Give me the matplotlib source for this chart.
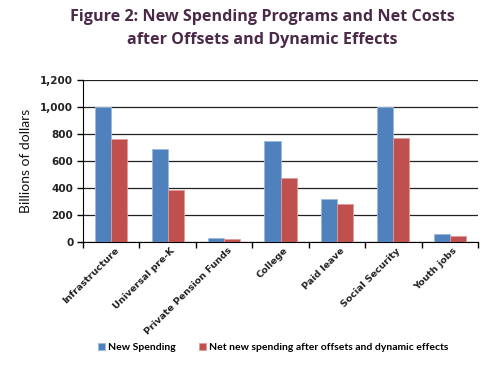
import numpy as np
import matplotlib
matplotlib.use("Agg")
import matplotlib.pyplot as plt
from matplotlib.ticker import FuncFormatter

# data
programs = ["Infrastructure", "Universal pre-K", "Private Pension Funds", "College",
            "Paid leave", "Social Security", "Youth jobs"]
new_spending = [1000, 685, 27, 749, 318, 1000, 59]
net_spending = [761, 387, 20, 473, 283, 769, 47]
series_names = ["New Spending", "Net new spending after offsets and dynamic effects"]

fig = plt.figure(figsize=(5, 3.67), dpi=100)
ax = fig.add_axes([0.166, 0.341, 0.79, 0.441])

x = np.arange(len(programs))
w = 0.285
ax.bar(x - w / 2, new_spending, w, color="#4F81BD", edgecolor="#9DB9E0", linewidth=0.6,
       label=series_names[0], zorder=3)
ax.bar(x + w / 2, net_spending, w, color="#C0504D", edgecolor="#E09A98", linewidth=0.6,
       label=series_names[1], zorder=3)

ax.set_xlim(-0.5, len(programs) - 0.5)
ax.set_ylim(0, 1200)
ax.set_yticks(range(0, 1201, 200))
ax.yaxis.set_major_formatter(FuncFormatter(lambda v, p: f"{int(v):,}"))
ax.grid(axis="y", color="#222222", linewidth=0.9, zorder=0)
for s in ["top", "right"]:
    ax.spines[s].set_visible(False)

# ticks between categories on the x axis
ax.set_xticks(np.arange(-0.5, len(programs), 1.0))
ax.set_xticklabels([])
ax.set_xticks(x + 0.05, minor=True)
ax.set_xticklabels(programs, minor=True, rotation=45, ha="right", rotation_mode="anchor",
                   fontsize=6.8, fontweight="bold", color="#222222")
ax.tick_params(axis="x", which="minor", length=0, pad=3)
ax.tick_params(axis="x", which="major", length=4, width=1)
ax.tick_params(axis="y", length=4, width=1, labelsize=7.5, labelcolor="#222222", pad=3)
for t in ax.get_yticklabels():
    t.set_fontweight("bold")

ax.set_ylabel("Billions of dollars", fontsize=10, family="Lato", labelpad=6, color="#111111")

fig.text(0.525, 0.975, "Figure 2: New Spending Programs and Net Costs\nafter Offsets and Dynamic Effects",
         ha="center", va="top", fontsize=11.6, fontweight="bold", family="Open Sans",
         color="#4A2A48", linespacing=1.6)

fig.legend(loc="lower left", bbox_to_anchor=(0.178, 0.015), ncol=2, frameon=False,
           handlelength=0.6, handleheight=0.6, handletextpad=0.3,
           columnspacing=2.3, prop={"family": "Lato", "size": 7.5, "weight": "bold"})

fig.savefig("out.png", dpi=100)
